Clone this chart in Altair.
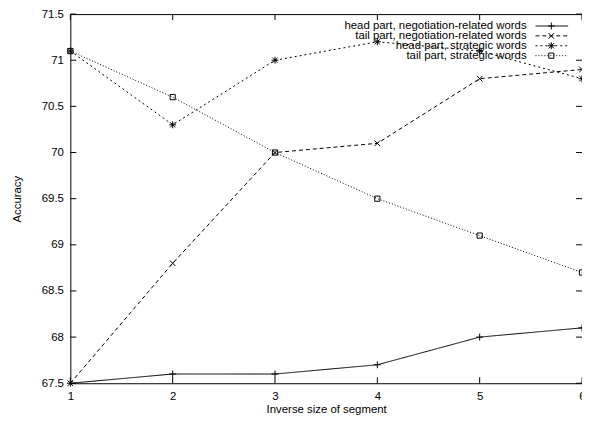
import altair as alt
import pandas as pd

x_vals = [1, 2, 3, 4, 5, 6]
series = [
    "head part, negotiation-related words",
    "tail part, negotiation-related words",
    "head part, strategic words",
    "tail part, strategic words",
]
head_neg = [67.5, 67.6, 67.6, 67.7, 68.0, 68.1]
tail_neg = [67.5, 68.8, 70.0, 70.1, 70.8, 70.9]
head_str = [71.1, 70.3, 71.0, 71.2, 71.1, 70.8]
tail_str = [71.1, 70.6, 70.0, 69.5, 69.1, 68.7]
x_ticks = [1, 2, 3, 4, 5, 6]
y_ticks = [67.5, 68, 68.5, 69, 69.5, 70, 70.5, 71, 71.5]

W, H = 517, 373
FONT = "Liberation Sans"
FS = 11.5
YDOM = [67.5, 71.5]
XDOM = [1, 6]

rows = []
for name, vals in zip(series, [head_neg, tail_neg, head_str, tail_str]):
    for xv, yv in zip(x_vals, vals):
        rows.append({"series": name, "x": xv, "y": yv})
df = pd.DataFrame(rows)

dash_scale = alt.Scale(domain=series, range=[[1, 0], [4, 3], [2, 3], [1, 2]])
shape_scale = alt.Scale(
    domain=series,
    range=[
        "M-1,0L1,0M0,-1L0,1",
        "M-0.8,-0.8L0.8,0.8M-0.8,0.8L0.8,-0.8",
        "M-1,0L1,0M0,-1L0,1M-0.75,-0.75L0.75,0.75M-0.75,0.75L0.75,-0.75",
        "M-0.75,-0.75L0.75,-0.75L0.75,0.75L-0.75,0.75Z",
    ],
)

xaxis = alt.Axis(
    values=x_ticks, ticks=False, domain=False, grid=False, labelPadding=7,
    labelFont=FONT, labelFontSize=FS, labelColor="black", labelFlush=False,
    title="Inverse size of segment", titleFont=FONT, titleFontSize=FS,
    titleFontWeight="normal", titleColor="black", titleY=27, titleBaseline="middle",
)
yaxis = alt.Axis(
    values=y_ticks, ticks=False, domain=False, grid=False, labelPadding=7,
    format=".1~f", labelFont=FONT, labelFontSize=FS, labelColor="black",
    labelFlush=False,
    title="Accuracy", titleFont=FONT, titleFontSize=FS, titleFontWeight="normal",
    titleColor="black", titleX=-53, titleY=H / 2, titleAngle=270,
    titleBaseline="middle", titleAlign="center",
)
xenc = alt.X("x:Q", scale=alt.Scale(domain=XDOM, nice=False, zero=False), axis=xaxis)
yenc = alt.Y("y:Q", scale=alt.Scale(domain=YDOM, nice=False, zero=False), axis=yaxis)

base = alt.Chart(df)
lines = base.mark_line(color="black", strokeWidth=1).encode(
    x=xenc,
    y=yenc,
    strokeDash=alt.StrokeDash("series:N", scale=dash_scale, legend=None),
    detail="series:N",
)
points = base.mark_point(filled=False, color="black", strokeWidth=1, size=49, opacity=1).encode(
    x=xenc,
    y=yenc,
    shape=alt.Shape("series:N", scale=shape_scale, legend=None),
)

xt = pd.DataFrame({"x": x_ticks})
yt = pd.DataFrame({"y": y_ticks})
tick_bottom = alt.Chart(xt).mark_rule(color="black", strokeWidth=1).encode(
    x=xenc, y=alt.value(H), y2=alt.value(H - 6))
tick_top = alt.Chart(xt).mark_rule(color="black", strokeWidth=1).encode(
    x=xenc, y=alt.value(0), y2=alt.value(6))
tick_left = alt.Chart(yt).mark_rule(color="black", strokeWidth=1).encode(
    y=yenc, x=alt.value(0), x2=alt.value(6))
tick_right = alt.Chart(yt).mark_rule(color="black", strokeWidth=1).encode(
    y=yenc, x=alt.value(W), x2=alt.value(W - 6))

data_layer = alt.layer(lines, points, tick_bottom, tick_top, tick_left, tick_right)

leg = pd.DataFrame({"series": series, "row": list(range(len(series)))})
ly = alt.Y("row:Q", scale=alt.Scale(domain=[0, 3], range=[12, 42], nice=False, zero=False), axis=None)
leg_text = alt.Chart(leg).mark_text(
    align="right", baseline="middle", font=FONT, fontSize=FS, color="black"
).encode(x=alt.value(461), y=ly, text="series:N")
leg_line = alt.Chart(leg).mark_rule(color="black", strokeWidth=1).encode(
    x=alt.value(470), x2=alt.value(503), y=ly,
    strokeDash=alt.StrokeDash("series:N", scale=dash_scale, legend=None),
)
leg_pt = alt.Chart(leg).mark_point(filled=False, color="black", strokeWidth=1, size=49, opacity=1).encode(
    x=alt.value(486), y=ly,
    shape=alt.Shape("series:N", scale=shape_scale, legend=None),
)
legend_layer = alt.layer(leg_text, leg_line, leg_pt)

chart = (
    alt.layer(data_layer, legend_layer)
    .resolve_scale(y="independent")
    .properties(
        width=W, height=H,
        autosize=alt.AutoSizeParams(type="none"),
        padding={"left": 63, "top": 4, "right": 0, "bottom": 37},
        background="white",
    )
    .configure_view(stroke="black", strokeWidth=1)
)

chart.save("out.html", embed_options={"renderer": "svg", "actions": False})
